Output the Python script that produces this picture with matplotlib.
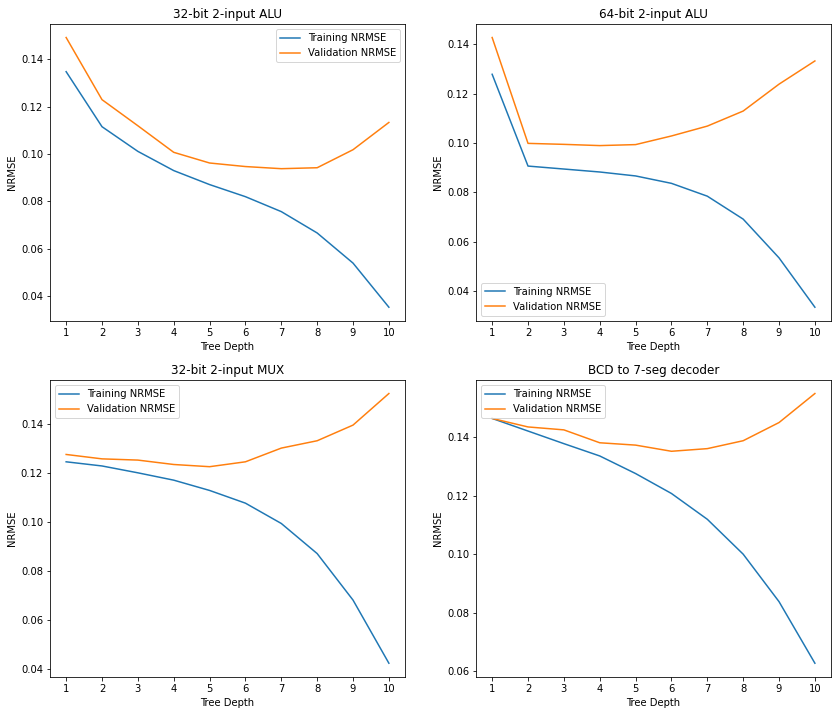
import matplotlib
matplotlib.use("Agg")
import matplotlib.pyplot as plt

depths = [1, 2, 3, 4, 5, 6, 7, 8, 9, 10]

titles = ["32-bit 2-input ALU", "64-bit 2-input ALU",
          "32-bit 2-input MUX", "BCD to 7-seg decoder"]

# training / validation NRMSE per tree depth
alu32_train = [0.1347, 0.1115, 0.1011, 0.0930, 0.0871, 0.0820, 0.0757, 0.0667, 0.0540, 0.0354]
alu32_val = [0.1491, 0.1229, 0.1119, 0.1007, 0.0962, 0.0947, 0.0938, 0.0942, 0.1018, 0.1133]

alu64_train = [0.1278, 0.0906, 0.0894, 0.0882, 0.0866, 0.0836, 0.0784, 0.0691, 0.0534, 0.0334]
alu64_val = [0.1427, 0.0998, 0.0994, 0.0989, 0.0993, 0.1028, 0.1068, 0.1129, 0.1238, 0.1332]

mux32_train = [0.1246, 0.1229, 0.1201, 0.1171, 0.1129, 0.1077, 0.0994, 0.0871, 0.0681, 0.0423]
mux32_val = [0.1276, 0.1258, 0.1253, 0.1235, 0.1226, 0.1246, 0.1302, 0.1332, 0.1396, 0.1525]

bcd_train = [0.1463, 0.1420, 0.1377, 0.1335, 0.1275, 0.1207, 0.1119, 0.1000, 0.0838, 0.0628]
bcd_val = [0.1463, 0.1434, 0.1424, 0.1380, 0.1372, 0.1351, 0.1360, 0.1387, 0.1449, 0.1548]

train_series = [alu32_train, alu64_train, mux32_train, bcd_train]
val_series = [alu32_val, alu64_val, mux32_val, bcd_val]
legend_locs = ["upper right", "lower left", "upper left", "upper left"]

fig, axes = plt.subplots(2, 2, figsize=(839 / 72, 713 / 72), dpi=72)
fig.subplots_adjust(left=0.0596, right=0.9905, top=0.9663, bottom=0.0509,
                    wspace=0.2, hspace=0.2)

for ax, title, tr, va, loc in zip(axes.flat, titles, train_series, val_series, legend_locs):
    ax.plot(depths, tr, label="Training NRMSE")
    ax.plot(depths, va, label="Validation NRMSE")
    ax.set_title(title)
    ax.set_xlabel("Tree Depth")
    ax.set_ylabel("NRMSE")
    ax.set_xticks(depths)
    ax.legend(loc=loc)

fig.savefig("out.png", dpi=72)
